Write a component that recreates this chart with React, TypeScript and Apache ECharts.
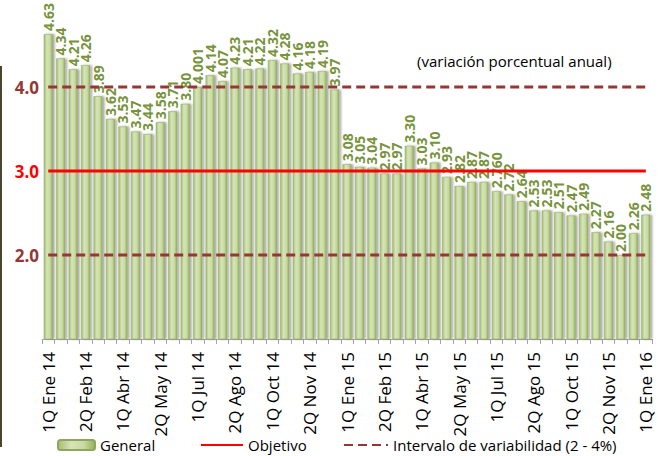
import React, { useEffect, useRef } from 'react';
import * as echarts from 'echarts';

const categories = [
  '1Q Ene 14', '2Q Ene 14', '1Q Feb 14', '2Q Feb 14', '1Q Mar 14', '2Q Mar 14',
  '1Q Abr 14', '2Q Abr 14', '1Q May 14', '2Q May 14', '1Q Jun 14', '2Q Jun 14',
  '1Q Jul 14', '2Q Jul 14', '1Q Ago 14', '2Q Ago 14', '1Q Sep 14', '2Q Sep 14',
  '1Q Oct 14', '2Q Oct 14', '1Q Nov 14', '2Q Nov 14', '1Q Dic 14', '2Q Dic 14',
  '1Q Ene 15', '2Q Ene 15', '1Q Feb 15', '2Q Feb 15', '1Q Mar 15', '2Q Mar 15',
  '1Q Abr 15', '2Q Abr 15', '1Q May 15', '2Q May 15', '1Q Jun 15', '2Q Jun 15',
  '1Q Jul 15', '2Q Jul 15', '1Q Ago 15', '2Q Ago 15', '1Q Sep 15', '2Q Sep 15',
  '1Q Oct 15', '2Q Oct 15', '1Q Nov 15', '2Q Nov 15', '1Q Dic 15', '2Q Dic 15',
  '1Q Ene 16',
];

const general = [
  4.63, 4.34, 4.21, 4.26, 3.89, 3.62, 3.53, 3.47, 3.44, 3.58, 3.71, 3.80,
  4.001, 4.14, 4.07, 4.23, 4.21, 4.22, 4.32, 4.28, 4.16, 4.18, 4.19, 3.97,
  3.08, 3.05, 3.04, 2.97, 2.97, 3.30, 3.03, 3.10, 2.93, 2.82, 2.87, 2.87,
  2.76, 2.72, 2.64, 2.53, 2.53, 2.51, 2.47, 2.49, 2.27, 2.16, 2.00, 2.26,
  2.48,
];

const generalLabels = [
  '4.63', '4.34', '4.21', '4.26', '3.89', '3.62', '3.53', '3.47', '3.44', '3.58', '3.71', '3.80',
  '4.001', '4.14', '4.07', '4.23', '4.21', '4.22', '4.32', '4.28', '4.16', '4.18', '4.19', '3.97',
  '3.08', '3.05', '3.04', '2.97', '2.97', '3.30', '3.03', '3.10', '2.93', '2.82', '2.87', '2.87',
  '2.760', '2.72', '2.64', '2.53', '2.53', '2.51', '2.47', '2.49', '2.27', '2.16', '2.00', '2.26',
  '2.48',
];

const objetivoLevel = 3;
const intervaloLow = 2;
const intervaloHigh = 4;
const yTickLabels = [2, 3, 4];

const FONT = '"Open Sans", Lato, sans-serif';
const DARK_RED = '#953735';
const RED = '#ff0000';

export default function App() {
  const ref = useRef<HTMLDivElement>(null);

  useEffect(() => {
    if (!ref.current) return;
    const chart = echarts.init(ref.current, undefined, { renderer: 'svg' });

    const barGradient = new echarts.graphic.LinearGradient(0, 0, 1, 0, [
      { offset: 0, color: '#a3bd72' },
      { offset: 0.35, color: '#d6e4b8' },
      { offset: 0.7, color: '#c8dba2' },
      { offset: 1, color: '#93af5e' },
    ]);

    const constLine = (v: number) => categories.map(() => v);
    const legendText = { fontFamily: FONT, fontSize: 15, lineHeight: 16, color: '#000' };

    chart.setOption({
      animation: false,
      textStyle: { fontFamily: FONT },
      title: {
        text: '(variación porcentual anual)',
        left: 412,
        top: 48,
        textStyle: { fontFamily: FONT, fontSize: 15, fontWeight: 'normal', color: '#000' },
      },
      grid: { left: 42, right: 6, top: 3, bottom: 117, containLabel: false },
      legend: [
        {
          data: ['General'],
          left: 57,
          top: 437,
          padding: 0,
          itemWidth: 37,
          itemHeight: 10,
          itemGap: 4,
          textStyle: legendText,
        },
        {
          data: ['Objetivo'],
          left: 200,
          top: 437,
          padding: 0,
          itemWidth: 42,
          itemHeight: 12,
          itemGap: 3,
          itemStyle: { opacity: 0 },
          textStyle: legendText,
        },
        {
          data: ['Intervalo de variabilidad (2 - 4%)'],
          left: 343,
          top: 437,
          padding: 0,
          itemWidth: 44,
          itemHeight: 12,
          itemStyle: { opacity: 0 },
          textStyle: legendText,
        },
      ],
      xAxis: {
        type: 'category',
        data: categories,
        boundaryGap: true,
        axisLine: { lineStyle: { color: '#a6a6a6', width: 1 } },
        axisTick: { show: true, interval: 0, length: 5, lineStyle: { color: '#a6a6a6' } },
        axisLabel: {
          interval: 2,
          rotate: 90,
          fontFamily: FONT,
          fontSize: 17,
          color: '#000',
          margin: 13,
        },
      },
      yAxis: {
        type: 'value',
        min: 1,
        max: 5,
        interval: 1,
        splitLine: { show: false },
        axisLine: { show: false },
        axisTick: { show: false },
        axisLabel: {
          margin: 3,
          fontFamily: FONT,
          fontSize: 17,
          fontWeight: 'bold',
          formatter: (v: number) => (yTickLabels.includes(v) ? v.toFixed(1) : ''),
          color: (v: any) => (Number(v) === objetivoLevel ? RED : DARK_RED),
        },
      },
      series: [
        {
          name: 'General',
          type: 'bar',
          data: general,
          barCategoryGap: '28%',
          itemStyle: {
            color: barGradient,
            borderColor: '#8ea65e',
            borderWidth: 0.5,
            shadowColor: 'rgba(0,0,0,0.35)',
            shadowBlur: 2,
            shadowOffsetX: 2,
            shadowOffsetY: 0,
          },
          label: {
            show: true,
            position: 'top',
            rotate: 90,
            align: 'left',
            verticalAlign: 'middle',
            distance: 3,
            fontFamily: FONT,
            fontSize: 14,
            fontWeight: 'bold',
            color: '#77933c',
            formatter: (p: any) => generalLabels[p.dataIndex],
          },
          z: 2,
        },
        {
          name: 'Objetivo',
          type: 'line',
          data: constLine(objetivoLevel),
          symbol: 'none',
          lineStyle: { color: RED, width: 3 },
          itemStyle: { color: RED },
          z: 4,
        },
        {
          name: 'Intervalo de variabilidad (2 - 4%)',
          type: 'line',
          data: constLine(intervaloHigh),
          symbol: 'none',
          lineStyle: { color: DARK_RED, width: 3, type: [9, 5] },
          itemStyle: { color: DARK_RED },
          z: 4,
        },
        {
          name: 'Intervalo de variabilidad (2 - 4%)',
          type: 'line',
          data: constLine(intervaloLow),
          symbol: 'none',
          lineStyle: { color: DARK_RED, width: 3, type: [9, 5] },
          itemStyle: { color: DARK_RED },
          z: 4,
        },
      ],
      graphic: [
        {
          type: 'line',
          shape: { x1: 1, y1: 66, x2: 1, y2: 447 },
          style: { stroke: '#4a4530', lineWidth: 2 },
        },
      ],
    });

    return () => chart.dispose();
  }, []);

  return (
    <div
      ref={ref}
      style={{ position: 'fixed', left: 0, top: 0, width: 658, height: 456, background: '#fff' }}
    />
  );
}
